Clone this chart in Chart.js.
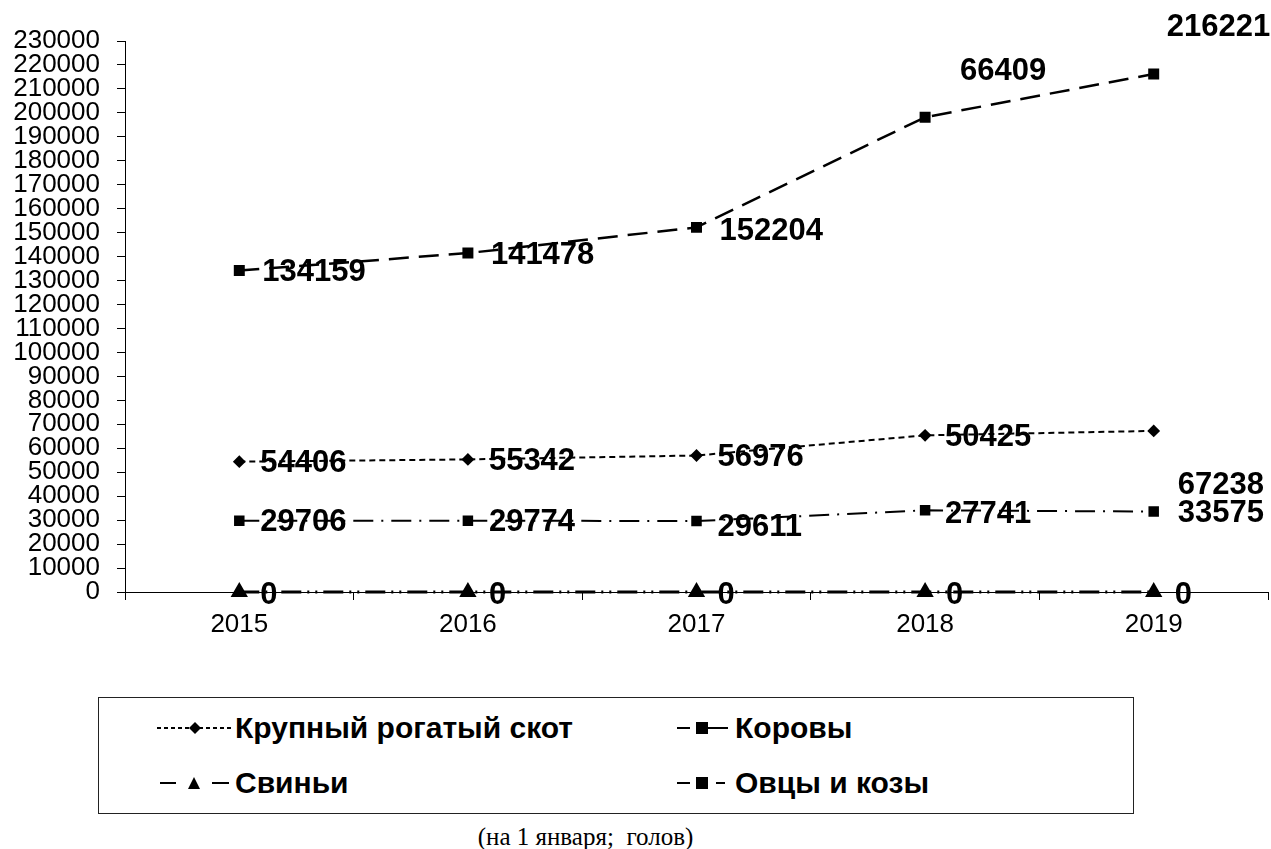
<!DOCTYPE html>
<html>
<head>
<meta charset="utf-8">
<script src="https://cdn.jsdelivr.net/npm/chart.js@4.4.1/dist/chart.umd.min.js"></script>
<style>
  html, body { margin: 0; padding: 0; background: #fff; }
  body { width: 1271px; height: 849px; position: relative; overflow: hidden; font-family: "Liberation Sans", Arial, sans-serif; }
  #wrap { position: absolute; left: 0; top: 0; width: 1271px; height: 660px; }
  #legend { position: absolute; left: 98px; top: 697px; width: 1036px; height: 117px; border: 1px solid #222; box-sizing: border-box; }
  .item { position: absolute; display: flex; align-items: center; font-weight: bold; font-size: 30px; color: #000; white-space: nowrap; height: 34px; }
  .item svg { display: block; }
  #footer { position: absolute; left: 0; width: 1171px; top: 823px; text-align: center; font-family: "Liberation Serif", "Times New Roman", serif; font-size: 25px; color: #000; }
</style>
</head>
<body>
<div id="wrap"><canvas id="c" width="1271" height="660"></canvas></div>
<div id="legend"></div>
<div id="footer">(на 1 января;&nbsp; голов)</div>
<script>
// ---- data ----
const years = ["2015", "2016", "2017", "2018", "2019"];
const seriesNames = ["Крупный рогатый скот", "Коровы", "Свиньи", "Овцы и козы"];
const cattleValues = [54406, 55342, 56976, 65400, 67238];
const cowsValues   = [29706, 29774, 29611, 34100, 33575];
const pigsValues   = [0, 0, 0, 0, 0];
const sheepValues  = [134159, 141478, 152204, 198200, 216221];
const cattleLabels = ["54406", "55342", "56976", "50425", "67238"];
const cowsLabels   = ["29706", "29774", "29611", "27741", "33575"];
const pigsLabels   = ["0", "0", "0", "0", "0"];
const sheepLabels  = ["134159", "141478", "152204", "66409", "216221"];
const yMin = 0, yMax = 230000, yStep = 10000;

// ---- label plugin ----
const pointLabelPlugin = {
  id: 'pointLabels',
  afterDatasetsDraw(chart, args, opts) {
    const ctx = chart.ctx;
    ctx.save();
    ctx.font = opts.font;
    ctx.fillStyle = '#000';
    ctx.textAlign = 'left';
    ctx.textBaseline = 'middle';
    chart.data.datasets.forEach((ds, i) => {
      const meta = chart.getDatasetMeta(i);
      const offs = opts.offsets[i];
      meta.data.forEach((pt, j) => {
        const o = offs[j];
        ctx.fillText(ds.pointText[j], pt.x + o[0], pt.y + o[1]);
      });
    });
    ctx.restore();
  }
};

const chart = new Chart(document.getElementById('c'), {
  type: 'line',
  data: {
    labels: years,
    datasets: [
      { label: seriesNames[0], data: cattleValues, pointText: cattleLabels,
        borderColor: '#000', backgroundColor: '#000', borderWidth: 2,
        borderDash: [6, 4], pointStyle: 'rectRot', pointRadius: 5, fill: false, tension: 0, clip: false },
      { label: seriesNames[1], data: cowsValues, pointText: cowsLabels,
        borderColor: '#000', backgroundColor: '#000', borderWidth: 2,
        borderDash: [20, 8, 2, 8], pointStyle: 'rect', pointRadius: 6, fill: false, tension: 0, clip: false },
      { label: seriesNames[2], data: pigsValues, pointText: pigsLabels,
        borderColor: '#000', backgroundColor: '#000', borderWidth: 3,
        borderDash: [20, 6, 2, 6, 2, 6], pointStyle: 'triangle', pointRadius: 7, fill: false, tension: 0, clip: false },
      { label: seriesNames[3], data: sheepValues, pointText: sheepLabels,
        borderColor: '#000', backgroundColor: '#000', borderWidth: 2.5,
        borderDash: [20, 10], pointStyle: 'rect', pointRadius: 6, fill: false, tension: 0, clip: false }
    ]
  },
  options: {
    responsive: false,
    animation: false,
    events: [],
    layout: { autoPadding: false, padding: { top: 41, right: 3, left: 0, bottom: 0 } },
    plugins: {
      legend: { display: false },
      tooltip: { enabled: false },
      pointLabels: {
        font: 'bold 31px "Liberation Sans", Arial, sans-serif',
        offsets: [
          [[21, 2], [21, 2], [21, 2], [20, 2], [24, 55]],
          [[21, 2], [21, 2], [21, 6], [20, 4], [24, 2]],
          [[21, 3], [21, 3], [21, 3], [21, 3], [21, 3]],
          [[23, 2], [23, 2], [23, 4], [35, -46], [13, -47]]
        ]
      }
    },
    scales: {
      x: {
        type: 'category',
        offset: true,
        grid: { display: true, offset: true, drawOnChartArea: false, drawTicks: true, tickLength: 8, color: '#000', lineWidth: 1 },
        border: { display: true, color: '#000', width: 1 },
        ticks: { color: '#000', font: { family: '"Liberation Sans", Arial, sans-serif', size: 26 }, padding: 9, maxRotation: 0 },
        afterFit(scale) { scale.height = 68; scale.paddingLeft = 0; scale.paddingRight = 0; }
      },
      y: {
        min: yMin, max: yMax,
        grid: { display: true, drawOnChartArea: false, drawTicks: true, tickLength: 8, color: '#000', lineWidth: 1 },
        border: { display: true, color: '#000', width: 1 },
        ticks: { stepSize: yStep, autoSkip: false, color: '#000', padding: 17,
                 font: { family: '"Liberation Sans", Arial, sans-serif', size: 26 },
                 callback: (v) => String(v) },
        afterFit(scale) { scale.width = 125; }
      }
    }
  },
  plugins: [pointLabelPlugin]
});

// ---- HTML legend ----
function sample(kind) {
  const s = '<svg width="78" height="20" viewBox="0 0 78 20">';
  let body = '';
  if (kind === 0) {
    body = '<line x1="0" y1="10" x2="76" y2="10" stroke="#000" stroke-width="2" stroke-dasharray="4 3"/>' +
           '<polygon points="38,4 44,10 38,16 32,10" fill="#000"/>';
  } else if (kind === 1) {
    body = '<line x1="20" y1="10" x2="33" y2="10" stroke="#000" stroke-width="2"/>' +
           '<rect x="39" y="4" width="12" height="12" fill="#000"/>' +
           '<line x1="51" y1="10" x2="71" y2="10" stroke="#000" stroke-width="2"/>';
  } else if (kind === 2) {
    body = '<line x1="3" y1="10" x2="19" y2="10" stroke="#000" stroke-width="2"/>' +
           '<polygon points="37,4 43,16 31,16" fill="#000"/>' +
           '<line x1="55" y1="10" x2="72" y2="10" stroke="#000" stroke-width="2"/>';
  } else {
    body = '<line x1="20" y1="10" x2="33" y2="10" stroke="#000" stroke-width="2"/>' +
           '<rect x="39" y="4" width="12" height="12" fill="#000"/>' +
           '<line x1="59" y1="10" x2="68" y2="10" stroke="#000" stroke-width="2"/>';
  }
  return s + body + '</svg>';
}
const legendPos = [[58, 13], [558, 13], [58, 68], [558, 68]];
const legend = document.getElementById('legend');
seriesNames.forEach((name, i) => {
  const d = document.createElement('div');
  d.className = 'item';
  d.style.left = legendPos[i][0] + 'px';
  d.style.top = legendPos[i][1] + 'px';
  d.innerHTML = sample(i) + '<span>' + name + '</span>';
  legend.appendChild(d);
});
</script>
</body>
</html>
